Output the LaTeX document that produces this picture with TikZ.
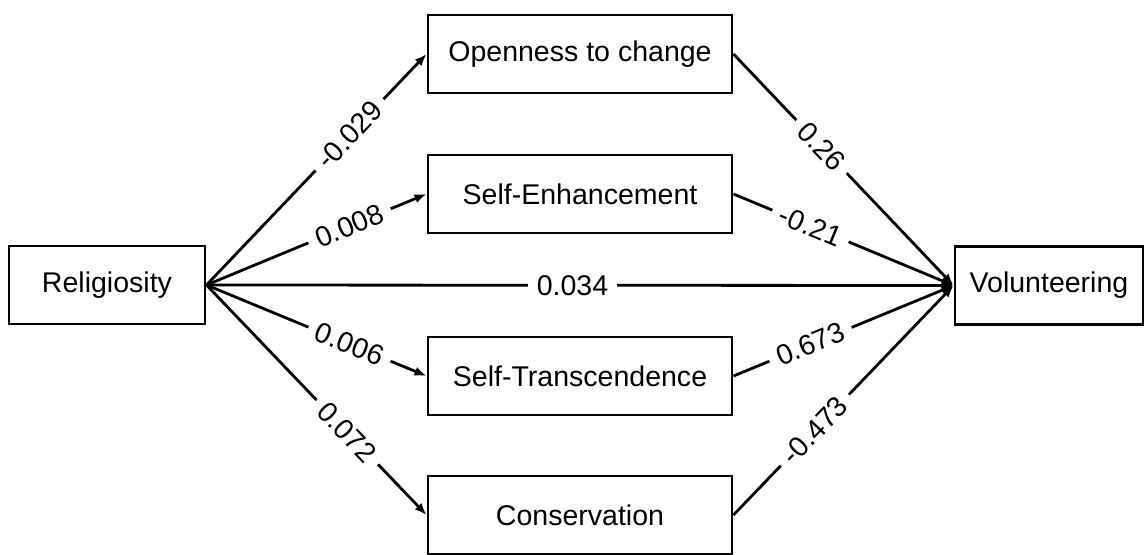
\documentclass[tikz,border=0pt]{standalone}
\usepackage{fontspec}
\setmainfont{Liberation Sans}
\usetikzlibrary{arrows.meta}
\begin{document}
\begin{tikzpicture}[x=0.75pt,y=-0.75pt,
  box/.style={draw=black,line width=2.2pt,fill=white,minimum height=58.5pt,inner sep=0pt,
    font=\fontsize{21.4}{25}\selectfont},
  arr/.style={line width=2.1pt,-{Latex[length=9pt,width=7pt]}},
  lbl/.style={fill=white,inner sep=6.5pt,sloped,font=\fontsize{21.4}{25}\selectfont}]
\useasboundingbox (0,0) rectangle (1147,554);
\node[box,minimum width=147pt] (rel) at (107,285) {Religiosity};
\node[box,minimum width=141pt] (vol) at (1049,285.5) {Volunteering};
\node[box,minimum width=228pt] (open) at (580,54) {Openness to change};
\node[box,minimum width=228pt] (enh) at (580,194) {Self-Enhancement};
\node[box,minimum width=228pt] (tra) at (580,376) {Self-Transcendence};
\node[box,minimum width=228pt] (con) at (580,515) {Conservation};
\draw[arr] (rel.east) -- node[lbl,pos=0.65]{-0.029} (open.west);
\draw[arr] (rel.east) -- node[lbl,pos=0.65]{0.008} (enh.west);
\draw[arr] (rel.east) -- node[lbl,pos=0.65]{0.006} (tra.west);
\draw[arr] (rel.east) -- node[lbl,pos=0.64]{0.072} (con.west);
\draw[arr] (rel.east) -- node[lbl,pos=0.49]{0.034} (vol.west);
\draw[arr] (open.east) -- node[lbl,pos=0.4]{0.26} (vol.west);
\draw[arr] (enh.east) -- node[lbl,pos=0.35]{-0.21} (vol.west);
\draw[arr] (tra.east) -- node[lbl,pos=0.35]{0.673} (vol.west);
\draw[arr] (con.east) -- node[lbl,pos=0.37]{-0.473} (vol.west);
\end{tikzpicture}
\end{document}
